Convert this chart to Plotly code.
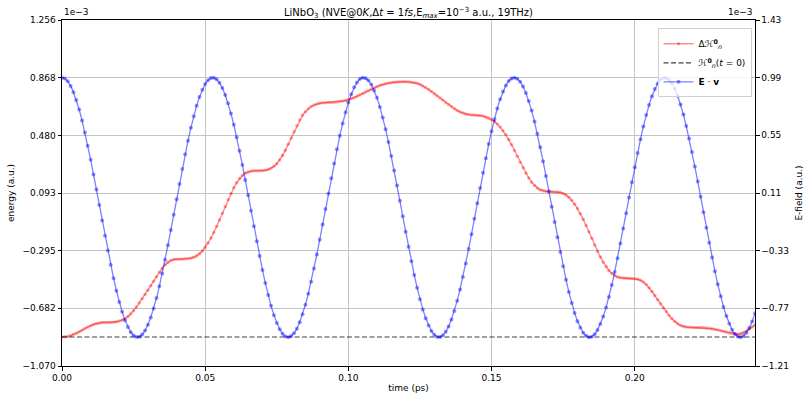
import plotly.graph_objects as go

# ---- data (displayed units: x1e-3 a.u.) ----
dt_ps = 0.001  # 1 fs time step

energy_delta = [
    -0.875, -0.874, -0.871, -0.866, -0.859, -0.850, -0.840, -0.829, -0.818, -0.808,
    -0.799, -0.791, -0.785, -0.781, -0.778, -0.777, -0.777, -0.777, -0.776, -0.773,
    -0.768, -0.761, -0.752, -0.738, -0.720, -0.698, -0.673, -0.646, -0.618, -0.589,
    -0.560, -0.530, -0.500, -0.470, -0.440, -0.413, -0.390, -0.372, -0.360, -0.354,
    -0.352, -0.352, -0.352, -0.351, -0.349, -0.345, -0.339, -0.330, -0.316, -0.297,
    -0.272, -0.243, -0.210, -0.173, -0.132, -0.088, -0.043, 0.003, 0.048, 0.090,
    0.128, 0.162, 0.190, 0.211, 0.226, 0.235, 0.240, 0.242, 0.242, 0.242,
    0.243, 0.246, 0.251, 0.260, 0.272, 0.290, 0.315, 0.345, 0.381, 0.421,
    0.462, 0.504, 0.545, 0.583, 0.615, 0.640, 0.660, 0.674, 0.684, 0.691,
    0.696, 0.699, 0.700, 0.701, 0.702, 0.703, 0.705, 0.708, 0.711, 0.715,
    0.720, 0.726, 0.734, 0.743, 0.752, 0.762, 0.772, 0.782, 0.792, 0.801,
    0.809, 0.816, 0.822, 0.828, 0.832, 0.835, 0.838, 0.840, 0.841, 0.841,
    0.841, 0.840, 0.838, 0.835, 0.830, 0.823, 0.813, 0.802, 0.789, 0.775,
    0.761, 0.746, 0.731, 0.716, 0.700, 0.686, 0.672, 0.659, 0.648, 0.638,
    0.630, 0.624, 0.620, 0.618, 0.617, 0.616, 0.614, 0.610, 0.604, 0.596,
    0.586, 0.574, 0.557, 0.536, 0.511, 0.484, 0.452, 0.417, 0.379, 0.340,
    0.300, 0.262, 0.226, 0.194, 0.166, 0.144, 0.127, 0.115, 0.108, 0.104,
    0.102, 0.101, 0.100, 0.099, 0.096, 0.090, 0.080, 0.064, 0.044, 0.018,
    -0.012, -0.046, -0.084, -0.125, -0.168, -0.212, -0.256, -0.298, -0.337, -0.372,
    -0.403, -0.428, -0.448, -0.463, -0.472, -0.477, -0.479, -0.480, -0.480, -0.481,
    -0.483, -0.487, -0.494, -0.505, -0.522, -0.544, -0.569, -0.596, -0.624, -0.652,
    -0.680, -0.706, -0.730, -0.752, -0.771, -0.786, -0.797, -0.804, -0.808, -0.810,
    -0.811, -0.811, -0.811, -0.811, -0.812, -0.814, -0.817, -0.820, -0.824, -0.828,
    -0.833, -0.838, -0.843, -0.848, -0.852, -0.855, -0.856, -0.853, -0.846, -0.834,
    -0.822, -0.808, -0.794,
]

e_dot_v = [
    0.990, 0.983, 0.962, 0.927, 0.879, 0.819, 0.747, 0.664, 0.572, 0.471,
    0.364, 0.252, 0.136, 0.019, -0.099, -0.216, -0.329, -0.438, -0.541, -0.636,
    -0.722, -0.797, -0.861, -0.913, -0.952, -0.978, -0.989, -0.987, -0.970, -0.940,
    -0.896, -0.839, -0.771, -0.691, -0.602, -0.504, -0.399, -0.288, -0.173, -0.056,
    0.062, 0.179, 0.294, 0.405, 0.509, 0.607, 0.696, 0.775, 0.842, 0.898,
    0.942, 0.971, 0.987, 0.989, 0.977, 0.951, 0.911, 0.858, 0.794, 0.717,
    0.631, 0.536, 0.433, 0.324, 0.210, 0.093, -0.025, -0.143, -0.258, -0.370,
    -0.477, -0.577, -0.669, -0.751, -0.822, -0.882, -0.929, -0.963, -0.984, -0.990,
    -0.982, -0.960, -0.925, -0.876, -0.815, -0.743, -0.659, -0.567, -0.466, -0.359,
    -0.246, -0.130, -0.012, 0.106, 0.222, 0.335, 0.444, 0.546, 0.641, 0.726,
    0.801, 0.864, 0.916, 0.954, 0.979, 0.990, 0.986, 0.969, 0.938, 0.893,
    0.836, 0.767, 0.686, 0.597, 0.499, 0.393, 0.282, 0.167, 0.050, -0.068,
    -0.186, -0.300, -0.410, -0.515, -0.612, -0.700, -0.778, -0.846, -0.901, -0.943,
    -0.972, -0.988, -0.989, -0.976, -0.949, -0.909, -0.855, -0.790, -0.713, -0.626,
    -0.530, -0.427, -0.318, -0.204, -0.087, 0.031, 0.149, 0.264, 0.376, 0.483,
    0.582, 0.673, 0.755, 0.826, 0.885, 0.931, 0.965, 0.984, 0.990, 0.981,
    0.959, 0.923, 0.873, 0.812, 0.739, 0.655, 0.562, 0.460, 0.353, 0.240,
    0.124, 0.006, -0.112, -0.228, -0.341, -0.449, -0.551, -0.646, -0.730, -0.805,
    -0.868, -0.918, -0.956, -0.980, -0.990, -0.986, -0.968, -0.936, -0.890, -0.833,
    -0.763, -0.683, -0.592, -0.493, -0.387, -0.276, -0.161, -0.044, 0.075, 0.192,
    0.306, 0.416, 0.520, 0.617, 0.705, 0.782, 0.849, 0.904, 0.945, 0.974,
    0.988, 0.988, 0.975, 0.947, 0.906, 0.852, 0.786, 0.709, 0.621, 0.525,
    0.422, 0.312, 0.198, 0.081, -0.037, -0.155, -0.270, -0.382, -0.488, -0.587,
    -0.678, -0.759, -0.829, -0.888, -0.934, -0.966, -0.985, -0.990, -0.981, -0.957,
    -0.921, -0.871, -0.808,
]

h0_value = -0.875  # H(t=0), x1e-3

time_ps = [i * dt_ps for i in range(len(energy_delta))]

x_ticks = [0.0, 0.05, 0.10, 0.15, 0.20]
x_ticklabels = ["0.00", "0.05", "0.10", "0.15", "0.20"]
left_ticks = [-1.070, -0.682, -0.295, 0.093, 0.480, 0.868, 1.256]
left_ticklabels = ["\u22121.070", "\u22120.682", "\u22120.295", "0.093", "0.480", "0.868", "1.256"]
right_ticks = [-1.21, -0.77, -0.33, 0.11, 0.55, 0.99, 1.43]
right_ticklabels = ["\u22121.21", "\u22120.77", "\u22120.33", "0.11", "0.55", "0.99", "1.43"]

FONT = "DejaVu Sans"

fig = go.Figure()

fig.add_trace(go.Scatter(
    x=time_ps, y=energy_delta, mode="lines+markers",
    name="\u0394\u210B<sup><b>0</b></sup><sub><i>n</i></sub>",
    line=dict(color="rgba(255,0,0,0.45)", width=1.4),
    marker=dict(color="rgba(255,0,0,0.35)", size=3.5, line=dict(width=0)),
    yaxis="y",
))
fig.add_trace(go.Scatter(
    x=[time_ps[0], time_ps[-1]], y=[h0_value, h0_value], mode="lines",
    name="\u210B<sup><b>0</b></sup><sub><i>n</i></sub>(<i>t</i> = 0)",
    line=dict(color="rgba(0,0,0,0.75)", width=1.2, dash="5px,2.5px"),
    yaxis="y",
))
fig.add_trace(go.Scatter(
    x=time_ps, y=e_dot_v, mode="lines+markers",
    name="<b>E</b> \u00b7 <b>v</b>",
    line=dict(color="rgba(0,0,255,0.5)", width=1.3),
    marker=dict(color="rgba(0,0,255,0.42)", size=4, line=dict(width=0)),
    yaxis="y2",
))

axis_common = dict(
    showline=True, linecolor="black", linewidth=1,
    ticks="outside", ticklen=3.5, tickcolor="black", tickwidth=1,
    tickfont=dict(family=FONT, size=9, color="black"),
    zeroline=False, automargin=False,
)

fig.update_layout(
    width=804, height=393,
    margin=dict(l=62, r=49, t=20, b=27),
    paper_bgcolor="white", plot_bgcolor="white",
    font=dict(family=FONT, size=9, color="black"),
    title=dict(
        text="LiNbO<sub>3</sub> (NVE@0<i>K</i>,\u0394<i>t</i> = 1<i>fs</i>,E<sub><i>max</i></sub>=10<sup>\u22123</sup> a.u., 19THz)",
        x=0.5, xref="paper", xanchor="center",
        y=1.0, yref="paper", yanchor="bottom", pad=dict(b=4),
        font=dict(family=FONT, size=10, color="black"),
    ),
    xaxis=dict(
        range=[time_ps[0], time_ps[-1]],
        tickvals=x_ticks, ticktext=x_ticklabels,
        showgrid=True, gridcolor="#c4c4c4", gridwidth=1,
        mirror=True,
        title=dict(text="time (ps)", font=dict(family=FONT, size=9), standoff=4),
        **axis_common,
    ),
    yaxis=dict(
        range=[left_ticks[0], left_ticks[-1]],
        tickvals=left_ticks, ticktext=left_ticklabels,
        showgrid=True, gridcolor="#c4c4c4", gridwidth=1,
        title=dict(text="energy (a.u.)", font=dict(family=FONT, size=9), standoff=6),
        **axis_common,
    ),
    yaxis2=dict(
        range=[right_ticks[0], right_ticks[-1]],
        tickvals=right_ticks, ticktext=right_ticklabels,
        overlaying="y", side="right", showgrid=False,
        title=dict(text="E-field (a.u.)", font=dict(family=FONT, size=9), standoff=8),
        **axis_common,
    ),
    legend=dict(
        x=0.995, y=0.976, xanchor="right", yanchor="top",
        bgcolor="rgba(255,255,255,0.8)", bordercolor="#d0d0d0", borderwidth=1,
        font=dict(family=FONT, size=9), tracegroupgap=0,
        itemwidth=30,
    ),
    showlegend=True,
    annotations=[
        dict(text="1e\u22123", x=0, y=1, xref="paper", yref="paper",
             xanchor="left", yanchor="bottom", showarrow=False,
             font=dict(family=FONT, size=9), yshift=1),
        dict(text="1e\u22123", x=1, y=1, xref="paper", yref="paper",
             xanchor="right", yanchor="bottom", showarrow=False,
             font=dict(family=FONT, size=9), yshift=1),
    ],
)

fig.write_html("out.html")
